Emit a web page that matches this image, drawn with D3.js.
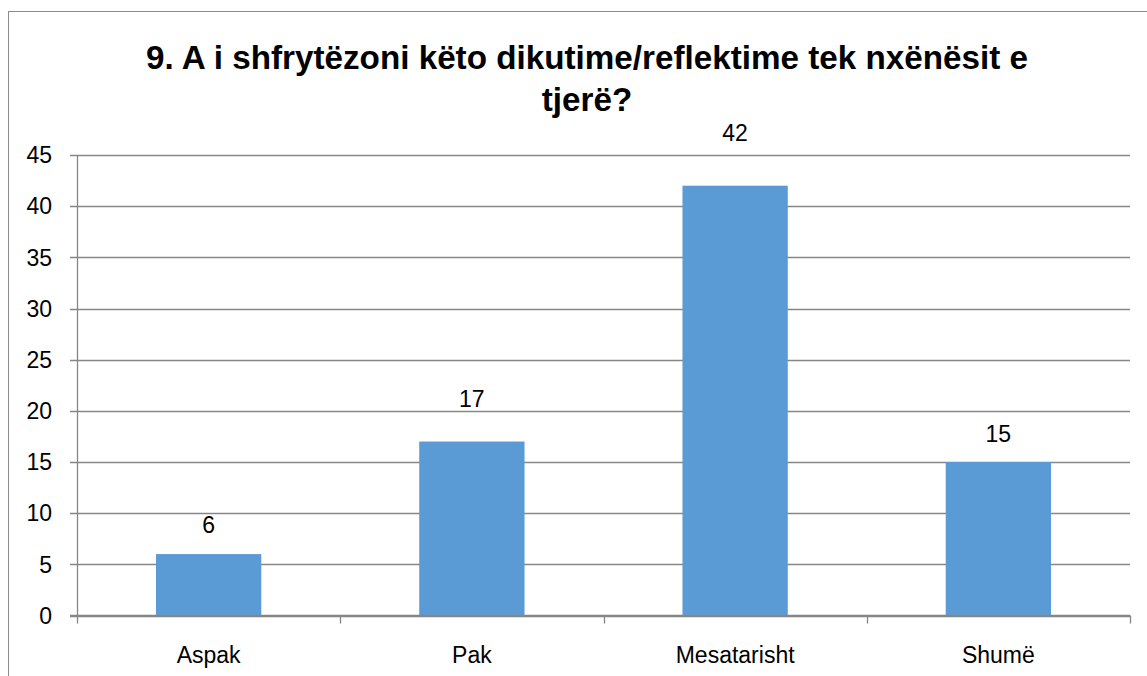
<!DOCTYPE html>
<meta charset="utf-8">
<style>
body { margin: 0; background: #fff; }
text { font-family: "Liberation Sans", Arial, sans-serif; fill: #000; }
.title { font-weight: bold; }
.grid line { stroke: #868686; stroke-width: 1.3px; }
.bar { fill: #5b9bd5; }
</style>
<svg width="1147" height="676"></svg>
<script src="https://cdn.jsdelivr.net/npm/d3@7"></script>
<script>
var titleLines = ["9. A i shfrytëzoni këto dikutime/reflektime tek nxënësit e", "tjerë?"];
var categories = ["Aspak", "Pak", "Mesatarisht", "Shumë"];
var values = [6, 17, 42, 15];
var yTicks = [0, 5, 10, 15, 20, 25, 30, 35, 40, 45];

// how far above each bar its label sits (px), as placed in the original
var labelLift = [21, 35, 45, 20];

var svg = d3.select("svg");

// outer chart border
svg.append("rect")
  .attr("x", 8.5).attr("y", 11.5)
  .attr("width", 1150).attr("height", 700)
  .attr("fill", "none").attr("stroke", "#8c8c8c").attr("stroke-width", 1);

var plotL = 77, plotR = 1130, plotT = 155, plotB = 615.5;

var x = d3.scaleBand().domain(categories).range([plotL, plotR]).paddingInner(0.6).paddingOuter(0.3);
var xb = d3.scaleBand().domain(categories).range([plotL, plotR]);
var y = d3.scaleLinear().domain([0, 45]).range([plotB, plotT]);

// gridlines
svg.append("g").attr("class", "grid")
  .selectAll("line").data(yTicks).enter().append("line")
  .attr("x1", plotL - 7).attr("x2", plotR)
  .attr("y1", function(d) { return Math.round(y(d)) + 0.5; })
  .attr("y2", function(d) { return Math.round(y(d)) + 0.5; });

// y axis line
svg.append("line")
  .attr("x1", plotL + 0.5).attr("x2", plotL + 0.5)
  .attr("y1", plotT).attr("y2", plotB + 8)
  .attr("stroke", "#868686").attr("stroke-width", 1.3);

// y tick labels
svg.append("g").selectAll("text").data(yTicks).enter().append("text")
  .attr("x", 52).attr("y", function(d) { return y(d); })
  .attr("dy", "0.36em").attr("text-anchor", "end")
  .style("font-size", "23px")
  .text(function(d) { return d; });

// category separators (ticks)
var seps = categories.map(function(c) { return xb(c) + xb.bandwidth(); });
svg.append("g").selectAll("line").data(seps).enter().append("line")
  .attr("x1", function(d) { return Math.round(d) + 0.5; })
  .attr("x2", function(d) { return Math.round(d) + 0.5; })
  .attr("y1", plotB).attr("y2", plotB + 8)
  .attr("stroke", "#868686").attr("stroke-width", 1.3);

// bars
svg.append("g").selectAll("rect").data(values).enter().append("rect")
  .attr("class", "bar")
  .attr("x", function(d, i) { return x(categories[i]); })
  .attr("width", x.bandwidth())
  .attr("y", function(d) { return y(d); })
  .attr("height", function(d) { return plotB - y(d); });

// zero line on top of bars
svg.append("line")
  .attr("x1", plotL - 7).attr("x2", plotR)
  .attr("y1", plotB).attr("y2", plotB)
  .attr("stroke", "#868686").attr("stroke-width", 1.5);

// value labels
svg.append("g").selectAll("text").data(values).enter().append("text")
  .attr("x", function(d, i) { return x(categories[i]) + x.bandwidth() / 2; })
  .attr("y", function(d, i) { return y(d) - labelLift[i]; })
  .attr("text-anchor", "middle")
  .style("font-size", "23px")
  .text(function(d) { return d; });

// category labels
svg.append("g").selectAll("text").data(categories).enter().append("text")
  .attr("x", function(d) { return xb(d) + xb.bandwidth() / 2; })
  .attr("y", 663)
  .attr("text-anchor", "middle")
  .style("font-size", "23px")
  .text(function(d) { return d; });

// title
var title = svg.append("g").selectAll("text").data(titleLines).enter().append("text")
  .attr("class", "title")
  .attr("x", 587)
  .attr("y", function(d, i) { return 69 + i * 42; })
  .attr("text-anchor", "middle")
  .style("font-size", "30px")
  .text(function(d) { return d; });

// fit first title line to the width in the picture
var w0 = title.nodes()[0].getComputedTextLength();
var fs = 30 * 882 / w0;
title.style("font-size", Math.min(fs, 36) + "px");
</script>
